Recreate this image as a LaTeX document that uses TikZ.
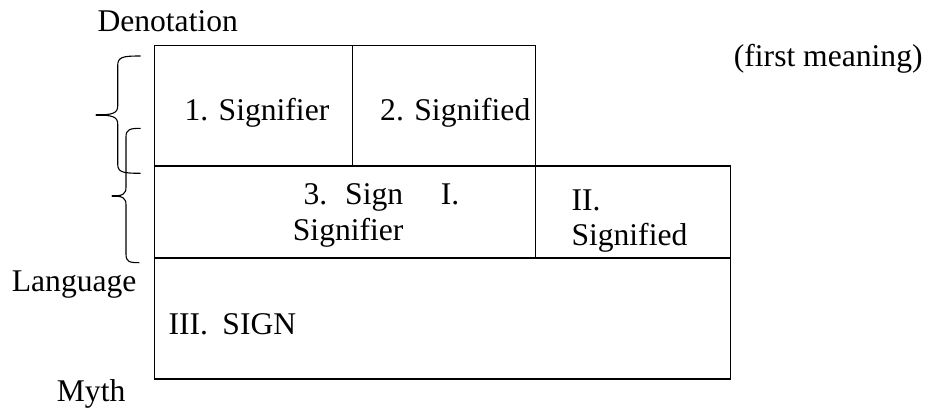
\documentclass[tikz,border=0pt]{standalone}
\usepackage{fontspec}
\setmainfont{Liberation Serif}
\begin{document}
\begin{tikzpicture}[x=1pt,y=-1pt,
  cell/.style={draw,line width=1.3pt,rectangle,inner sep=0pt,outer sep=0pt},
  lbl/.style={inner sep=0pt,anchor=base west,font=\fontsize{31.6}{36.7}\selectfont},
  bracepath/.style={draw,line width=1.1pt,line join=round},
  bracetip/.style={draw,line width=2.2pt}]
\useasboundingbox (0,0) rectangle (927,410);

% table cells
\node[cell,minimum width=198pt,minimum height=120.7pt] (c1) at (253.3,105.65) {};
\node[cell,minimum width=183pt,minimum height=120.7pt] (c2) at (443.8,105.65) {};
\node[cell,minimum width=381pt,minimum height=92pt] (c3) at (344.8,212) {};
\node[cell,minimum width=195pt,minimum height=92pt] (c4) at (632.8,212) {};
\node[cell,minimum width=576pt,minimum height=121pt] (c5) at (442.3,318.5) {};

% cell texts
\node[lbl] (t1) at (184.3,120) {1. Signifier};
\node[lbl] (t2) at (380,120) {2. Signified};
\node[lbl] (t3a) at (303.3,204) {3.\hspace{18pt}Sign\hspace{37.7pt}I.};
\node[lbl] (t3b) at (292.7,240.7) {Signifier};
\node[lbl] (t4a) at (571.3,210) {II.};
\node[lbl] (t4b) at (571.3,245.7) {Signified};
\node[lbl] (t5) at (168.3,334.3) {III.\hspace{14.5pt}SIGN};

% side labels
\node[lbl] (den) at (97.3,31) {Denotation};
\node[lbl] (fm) at (733.7,66.7) {(first meaning)};
\node[lbl] (lang) at (11.7,291.7) {Language};
\node[lbl] (myth) at (56.7,401.7) {Myth};

% upper brace
\path[bracepath] (140.7,56) .. controls (122,56) and (117.7,57) .. (117.7,66)
  -- (117.7,106) .. controls (117.7,113) and (113,115) .. (96,115)
  .. controls (113,115) and (117.7,117) .. (117.7,124)
  -- (117.7,164) .. controls (117.7,172) and (122,173.3) .. (140.7,173.3);
\path[bracetip] (96,115) -- (106,115);

% lower brace
\path[bracepath] (140.7,128.3) .. controls (130,128.3) and (126,129.3) .. (126,137)
  -- (126,187) .. controls (126,194) and (123,196) .. (112,196)
  .. controls (123,196) and (126,198) .. (126,205)
  -- (126,254) .. controls (126,261.7) and (129,262.7) .. (139.3,262.7);
\path[bracetip] (112,196) -- (121,196);
\end{tikzpicture}
\end{document}
